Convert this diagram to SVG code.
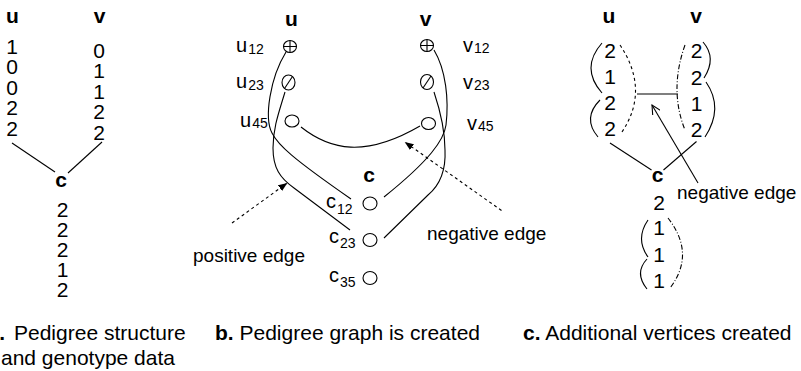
<svg xmlns="http://www.w3.org/2000/svg" width="801" height="371" viewBox="0 0 801 371">
<defs>
<style>
text{font-family:"Liberation Sans",Arial,Helvetica,sans-serif;fill:#000}
.h{font-weight:bold;font-size:21px;text-anchor:middle}
.d{font-size:21px;text-anchor:middle}
.l{font-size:20px}
.s{font-size:14px}
.e{font-size:19px}
.cap{font-size:21px}
.bo{font-weight:bold}
.ln{fill:none;stroke:#000;stroke-width:1.1}
.dsh{stroke-dasharray:3 3}
.dd{stroke-dasharray:5 2 1 2}
.nd{fill:#fff;stroke:#000;stroke-width:1.1}
</style>
<marker id="ah" markerWidth="9" markerHeight="8" refX="8" refY="4" orient="auto" markerUnits="userSpaceOnUse"><path d="M0,0.5 L9,4 L0,7.5 Z" fill="#000"/></marker>
<marker id="oh" markerWidth="10" markerHeight="10" refX="9" refY="5" orient="auto" markerUnits="userSpaceOnUse"><path d="M0,0.5 L9,5 L0,9.5" fill="none" stroke="#000" stroke-width="1.1"/></marker>
</defs>

<!-- Part a -->
<g id="a-u">
<text class="h" x="12.5" y="23">u</text>
<text class="d" x="12"><tspan x="12" y="53.5">1</tspan><tspan x="12" y="74">0</tspan><tspan x="12" y="94.5">0</tspan><tspan x="12" y="115">2</tspan><tspan x="12" y="135.5">2</tspan></text>
</g>
<g id="a-v">
<text class="h" x="99.5" y="23">v</text>
<text class="d" x="99"><tspan x="99" y="57.5">0</tspan><tspan x="99" y="78">1</tspan><tspan x="99" y="98.5">1</tspan><tspan x="99" y="119">2</tspan><tspan x="99" y="139.5">2</tspan></text>
</g>
<g id="a-c">
<text class="h" x="61" y="187">c</text>
<text class="d" x="62.5"><tspan x="62.5" y="216.5">2</tspan><tspan x="62.5" y="236.5">2</tspan><tspan x="62.5" y="256.5">2</tspan><tspan x="62.5" y="276.5">1</tspan><tspan x="62.5" y="296.5">2</tspan></text>
</g>
<g id="a-edges">
<path class="ln" d="M12,143 L55,172"/>
<path class="ln" d="M102,142 L68,173"/>
</g>

<!-- Part b -->
<text class="h" x="291.5" y="26">u</text>
<text class="h" x="425.5" y="26">v</text>
<text class="h" x="369" y="182">c</text>

<g id="b-edges">
<path class="ln" d="M286,52 C270,78 264,118 272,133 C278,145 292,158 351,199"/>
<path class="ln" d="M285,92 C279,112 273,128 273,148 C273,168 280,178 294,188 L350,230"/>
<path class="ln" d="M434,50 C446,70 449,100 446,125 C444,140 430,160 384,197"/>
<path class="ln" d="M434,92 C440,110 445,130 445,150 C446,170 440,185 428,195 L384,238"/>
<path class="ln" d="M301,127 C330,150 365,158 420,126"/>
<path class="ln dsh" d="M232,223 L286.5,183.5" marker-end="url(#ah)"/>
<path class="ln dsh" d="M501.5,210.5 L405.5,142.5" marker-end="url(#ah)"/>
</g>

<g id="u12">
<ellipse class="nd" cx="290" cy="46.5" rx="6.5" ry="6"/>
<path class="ln" d="M283.5,46.5 H296.5 M290,40.5 V52.5"/>
<text class="l" x="236" y="52">u<tspan class="s" dx="1" dy="1.5">12</tspan></text>
</g>
<g id="u23">
<ellipse class="nd" cx="288.5" cy="82.5" rx="6.5" ry="7.5"/>
<path class="ln" d="M284.5,88.5 L292.5,76.5"/>
<text class="l" x="236" y="88.3">u<tspan class="s" dx="1" dy="1.7">23</tspan></text>
</g>
<g id="u45">
<ellipse class="nd" cx="292" cy="121" rx="7" ry="6"/>
<text class="l" x="240" y="126.7">u<tspan class="s" dx="1" dy="1.6">45</tspan></text>
</g>
<g id="v12">
<ellipse class="nd" cx="427" cy="45.5" rx="6.5" ry="6"/>
<path class="ln" d="M420.5,45.5 H433.5 M427,39.5 V51.5"/>
<text class="l" x="463" y="51.7">v<tspan class="s" dx="1" dy="1.6">12</tspan></text>
</g>
<g id="v23">
<ellipse class="nd" cx="427" cy="82" rx="6.5" ry="7.5"/>
<path class="ln" d="M423,88 L431,76"/>
<text class="l" x="463" y="89.3">v<tspan class="s" dx="1" dy="0.7">23</tspan></text>
</g>
<g id="v45">
<ellipse class="nd" cx="428.5" cy="123.5" rx="7" ry="6"/>
<text class="l" x="467" y="130">v<tspan class="s" dx="1" dy="0.7">45</tspan></text>
</g>
<g id="c12">
<ellipse class="nd" cx="370" cy="203.5" rx="7" ry="6.5"/>
<text class="l" x="326" y="208.3">c<tspan class="s" dx="1" dy="5.7">12</tspan></text>
</g>
<g id="c23">
<ellipse class="nd" cx="370" cy="240" rx="7" ry="6.5"/>
<text class="l" x="329" y="243.3">c<tspan class="s" dx="1" dy="5">23</tspan></text>
</g>
<g id="c35">
<ellipse class="nd" cx="370" cy="278" rx="7" ry="6.5"/>
<text class="l" x="329" y="281.7">c<tspan class="s" dx="1" dy="5">35</tspan></text>
</g>
<text class="e" x="193" y="262">positive edge</text>
<text class="e" x="427" y="240">negative edge</text>

<!-- Part c -->
<g id="c-u">
<text class="h" x="609" y="23">u</text>
<text class="d" x="610"><tspan x="610" y="58">2</tspan><tspan x="610" y="84">1</tspan><tspan x="610" y="110">2</tspan><tspan x="610" y="136">2</tspan></text>
</g>
<g id="c-v">
<text class="h" x="696" y="23">v</text>
<text class="d" x="696.5"><tspan x="696.5" y="58">2</tspan><tspan x="696.5" y="84.5">2</tspan><tspan x="696.5" y="111">1</tspan><tspan x="696.5" y="137">2</tspan></text>
</g>
<g id="c-c">
<text class="h" x="657.5" y="182">c</text>
<text class="d" x="659"><tspan x="659" y="210">2</tspan><tspan x="659" y="235">1</tspan><tspan x="659" y="261.5">1</tspan><tspan x="659" y="288">1</tspan></text>
</g>
<g id="c-edges">
<path class="ln" d="M602,43 Q580,68 602,93"/>
<path class="ln" d="M600,100 Q582,118 598,137"/>
<path class="ln dsh" d="M620,45 Q650,90 622,132"/>
<path class="ln dd" d="M685,45 Q669,90 685,130"/>
<path class="ln" d="M703,42 Q717,58 704,78"/>
<path class="ln" d="M706,82 Q724,108 705,137"/>
<path class="ln" d="M637,94 L678,94"/>
<path class="ln" d="M610,143 L651.5,170"/>
<path class="ln" d="M696.5,141.5 L663.5,170"/>
<path class="ln" d="M648,220 Q635,239 648,257"/>
<path class="ln" d="M647,259 Q634,273 647,289"/>
<path class="ln dd" d="M668,218 Q696,254 670,288"/>
<path class="ln" d="M698,183 L652,105" marker-end="url(#oh)"/>
</g>
<text class="e" x="677" y="199">negative edge</text>

<!-- Captions -->
<text class="cap bo" x="5" y="340" text-anchor="end">a.</text>
<text class="cap" x="14" y="340">Pedigree structure</text>
<text class="cap" x="1" y="365">and genotype data</text>
<text class="cap" x="215" y="340"><tspan class="bo">b.</tspan> Pedigree graph is created</text>
<text class="cap" x="523" y="340"><tspan class="bo">c.</tspan> Additional vertices created</text>
</svg>
